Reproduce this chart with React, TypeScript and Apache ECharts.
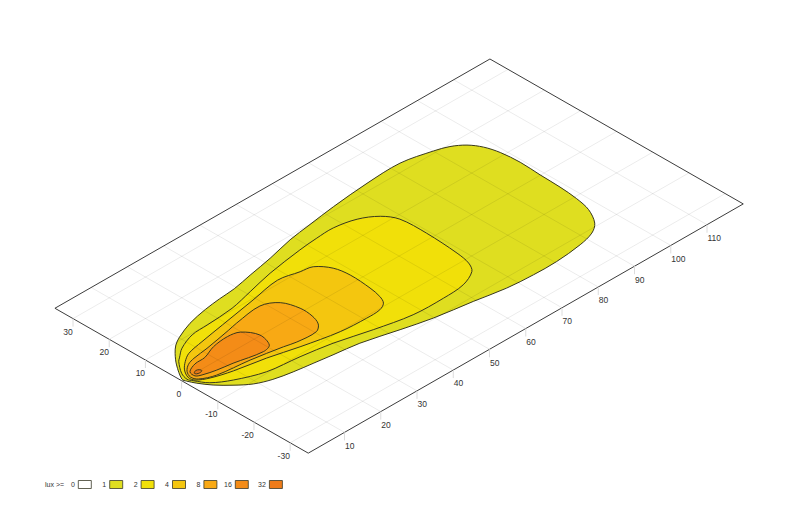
import React, { useEffect, useRef } from "react";
import * as echarts from "echarts";

// World coordinates: x = distance (0..120), y = lateral offset (-35..35)
const lux1 = [[0.4,0.3],[3.1,4.5],[5.7,7.5],[7.8,9.4],[10.2,10.8],[15.0,12.7],[20.4,13.9],[24.9,14.5],[29.4,14.9],[34.9,16.0],[41.7,17.3],[48.9,19.0],[55.0,19.9],[62.9,21.0],[73.1,22.0],[82.5,22.3],[90.1,20.6],[93.4,19.4],[96.1,17.4],[97.9,14.6],[98.9,11.0],[99.3,5.9],[99.0,0.1],[98.8,-5.6],[98.3,-10.7],[97.3,-15.0],[94.9,-19.1],[92.1,-21.1],[87.7,-22.3],[80.4,-23.1],[74.0,-23.1],[67.1,-22.6],[59.3,-21.2],[49.8,-19.7],[42.4,-17.9],[33.6,-15.6],[27.1,-14.7],[22.3,-14.0],[17.5,-13.3],[12.9,-12.3],[9.1,-10.7],[6.0,-8.2],[3.3,-5.4],[1.5,-2.7],[0.6,-0.8]];
const lux2 = [[1.1,-0.4],[1.8,1.8],[4.2,5.0],[5.2,5.8],[7.9,7.8],[12.5,9.6],[16.9,9.9],[24.4,10.5],[30.9,12.0],[38.1,13.7],[47.8,15.2],[52.8,15.7],[57.7,15.9],[63.1,14.7],[67.0,12.2],[69.0,8.8],[69.3,1.7],[68.7,-7.3],[67.9,-11.3],[66.3,-13.8],[61.9,-15.8],[56.0,-16.3],[47.8,-16.1],[38.7,-14.2],[29.9,-11.9],[22.1,-10.6],[13.9,-9.6],[7.3,-7.0],[3.4,-4.4],[1.6,-1.6]];
const lux4 = [[1.7,-0.1],[3.0,2.2],[5.1,4.1],[7.6,5.6],[12.2,6.6],[19.0,7.8],[29.3,9.6],[37.4,11.0],[42.6,9.9],[45.6,9.3],[48.0,6.2],[48.7,2.2],[48.3,-3.7],[47.6,-7.1],[46.5,-9.2],[44.4,-10.3],[40.6,-10.5],[33.7,-10.1],[24.5,-8.2],[17.2,-6.3],[9.5,-4.8],[4.6,-3.3],[2.0,-1.7]];
const lux8 = [[2.1,-0.3],[3.0,1.5],[4.9,3.0],[7.1,3.7],[11.3,4.3],[18.7,5.7],[21.5,6.3],[28.8,7.2],[32.4,5.2],[33.8,1.1],[33.6,-2.4],[32.5,-5.2],[30.4,-6.8],[25.2,-6.6],[22.2,-5.9],[14.4,-4.5],[6.2,-3.5],[2.7,-1.9]];
const lux16 = [[3.0,-0.7],[3.3,1.0],[5.9,2.2],[8.8,2.4],[12.6,3.8],[16.9,4.3],[19.8,3.6],[21.8,0.2],[20.7,-3.5],[18.3,-4.3],[11.3,-2.9],[7.4,-2.3],[4.4,-1.5]];
const lux32 = [[3.6,0.1],[4.4,0.5],[5.1,0.2],[5.2,-0.4],[4.4,-0.6],[3.7,-0.4]];
const contours = [lux1, lux2, lux4, lux8, lux16, lux32];

const levelLabels = ["0", "1", "2", "4", "8", "16", "32"];
const levelColors = ["#ffffff", "#dfde20", "#f1e009", "#f4c60f", "#f8a914", "#f48c17", "#ee7b19"];
const xTicks = [10, 20, 30, 40, 50, 60, 70, 80, 90, 100, 110];
const yTicks = [-30, -20, -10, 0, 10, 20, 30];
const xRange = [0, 120];
const yRange = [-35, 35];

// Oblique projection of the world plane on to the page
const project = (x: number, y: number) => [181.6 + 3.625 * x - 3.619 * y, 380.7 - 2.077 * x - 2.07 * y];

const W = 798;
const H = 525;
const FONT = "Liberation Sans, Arial, sans-serif";

export default function App() {
  const ref = useRef<HTMLDivElement>(null);
  useEffect(() => {
    const chart = echarts.init(ref.current!, undefined, { renderer: "svg" });
    const toPx = (api: any, x: number, y: number) => api.coord(project(x, y));

    const lineEl = (a: number[], b: number[], stroke: string, lineWidth: number) => ({
      type: "line",
      shape: { x1: a[0], y1: a[1], x2: b[0], y2: b[1] },
      style: { stroke, lineWidth, fill: null },
    });

    const gridLines: number[][] = [];
    for (let x = 10; x < xRange[1]; x += 10) gridLines.push([x, yRange[0], x, yRange[1]]);
    for (const y of yTicks) gridLines.push([xRange[0], y, xRange[1], y]);

    const frame = [
      [xRange[0], yRange[0]],
      [xRange[1], yRange[0]],
      [xRange[1], yRange[1]],
      [xRange[0], yRange[1]],
    ];

    const legendGroup: any[] = [
      {
        type: "text",
        x: 45,
        y: 484.5,
        style: { text: "lux >=", font: `7px ${FONT}`, fill: "#333", verticalAlign: "middle", align: "left" },
      },
    ];
    levelLabels.forEach((label, i) => {
      const left = 78.3 + i * 31.4 + (i === 6 ? 2.7 : 0);
      legendGroup.push({
        type: "text",
        x: left - 3.5,
        y: 484.5,
        style: { text: label, font: `7px ${FONT}`, fill: "#333", verticalAlign: "middle", align: "right" },
      });
      legendGroup.push({
        type: "rect",
        shape: { x: left, y: 480.5, width: 13, height: 8 },
        style: { fill: levelColors[i], stroke: "#3a3a28", lineWidth: 0.8 },
      });
    });

    chart.setOption({
      animation: false,
      backgroundColor: "#ffffff",
      grid: { left: 0, right: 0, top: 0, bottom: 0 },
      xAxis: { type: "value", min: 0, max: W, show: false },
      yAxis: { type: "value", min: 0, max: H, inverse: true, show: false },
      graphic: legendGroup,
      series: [
        {
          type: "custom",
          coordinateSystem: "cartesian2d",
          clip: false,
          silent: true,
          data: contours.map((_, i) => [i, 0]),
          renderItem: (params: any, api: any) => {
            const i = params.dataIndex;
            return {
              type: "polygon",
              shape: { points: contours[i].map((p) => toPx(api, p[0], p[1])), smooth: 0.33 },
              style: { fill: levelColors[i + 1], stroke: "#38381c", lineWidth: 1 },
            };
          },
        },
        {
          type: "custom",
          coordinateSystem: "cartesian2d",
          clip: false,
          silent: true,
          data: gridLines.map((_, i) => [i, 0]),
          renderItem: (params: any, api: any) => {
            const g = gridLines[params.dataIndex];
            return lineEl(toPx(api, g[0], g[1]), toPx(api, g[2], g[3]), "rgba(0,0,0,0.08)", 1);
          },
        },
        {
          type: "custom",
          coordinateSystem: "cartesian2d",
          clip: false,
          silent: true,
          data: frame.map((_, i) => [i, 0]),
          renderItem: (params: any, api: any) => {
            const a = frame[params.dataIndex];
            const b = frame[(params.dataIndex + 1) % frame.length];
            return lineEl(toPx(api, a[0], a[1]), toPx(api, b[0], b[1]), "#3c3c3c", 1);
          },
        },
        {
          type: "custom",
          coordinateSystem: "cartesian2d",
          clip: false,
          silent: true,
          data: xTicks.map((v) => [v, 0]),
          renderItem: (params: any, api: any) => {
            const v = xTicks[params.dataIndex];
            const p = toPx(api, v, yRange[0]);
            return {
              type: "group",
              children: [
                lineEl(p, [p[0], p[1] + 8], "#dcdcdc", 1),
                {
                  type: "text",
                  x: p[0] + 0.5,
                  y: p[1] + 13.3,
                  style: { text: String(v), font: `8.5px ${FONT}`, fill: "#333", align: "left", verticalAlign: "middle" },
                },
              ],
            };
          },
        },
        {
          type: "custom",
          coordinateSystem: "cartesian2d",
          clip: false,
          silent: true,
          data: yTicks.map((v) => [v, 0]),
          renderItem: (params: any, api: any) => {
            const v = yTicks[params.dataIndex];
            const p = toPx(api, xRange[0], v);
            return {
              type: "group",
              children: [
                lineEl(p, [p[0], p[1] + 8], "#dcdcdc", 1),
                {
                  type: "text",
                  x: p[0] - 0.3,
                  y: p[1] + 13,
                  style: { text: String(v), font: `8.5px ${FONT}`, fill: "#333", align: "right", verticalAlign: "middle" },
                },
              ],
            };
          },
        },
      ],
    });
    return () => chart.dispose();
  }, []);
  return <div ref={ref} style={{ position: "absolute", left: 0, top: 0, width: W, height: H }} />;
}
